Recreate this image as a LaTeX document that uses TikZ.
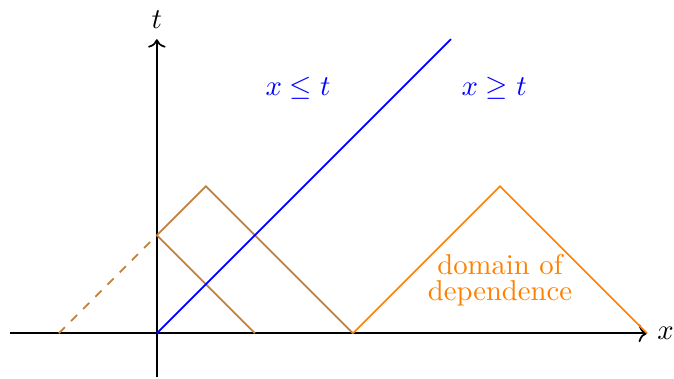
\documentclass[tikz,border=0pt]{standalone}
\usetikzlibrary{arrows.meta}
\definecolor{brn}{rgb}{0.75,0.5,0.25}
\definecolor{org}{rgb}{1,0.5,0}
\begin{document}
\begin{tikzpicture}[x=0.6cm,y=0.6cm,
  axis/.style={semithick,->},
  brline/.style={semithick,brn},
  orline/.style={semithick,org},
  blline/.style={semithick,blue}]
\useasboundingbox (-3.2,-0.92) rectangle (10.55,6.8);
\coordinate (O) at (0,0);
\coordinate (xl) at (-3,0);
\coordinate (xr) at (10,0);
\coordinate (tb) at (0,-0.9);
\coordinate (tt) at (0,6);
\draw[axis] (xl) -- (xr) node[right] (xlab) {$x$};
\draw[axis] (tb) -- (tt) node[above] (tlab) {$t$};
\coordinate (B0) at (0,2);
\coordinate (B1) at (1,3);
\coordinate (B2) at (4,0);
\coordinate (B3) at (2,0);
\coordinate (B4) at (-2,0);
\draw[brline] (B0) -- (B1) -- (B2);
\draw[brline] (B0) -- (B3);
\draw[brline,dashed] (B4) -- (B0);
\coordinate (T) at (6,6);
\draw[blline] (O) -- (T);
\coordinate (C0) at (4,0);
\coordinate (C1) at (7,3);
\coordinate (C2) at (10,0);
\draw[orline] (C0) -- (C1) -- (C2);
\node[blue] (le) at (2.88,5) {$x\le t$};
\node[blue] (ge) at (6.88,5) {$x\ge t$};
\node[org,align=center] (dom) at (7,1.08) {domain of\\[-3pt]dependence};
\end{tikzpicture}
\end{document}
